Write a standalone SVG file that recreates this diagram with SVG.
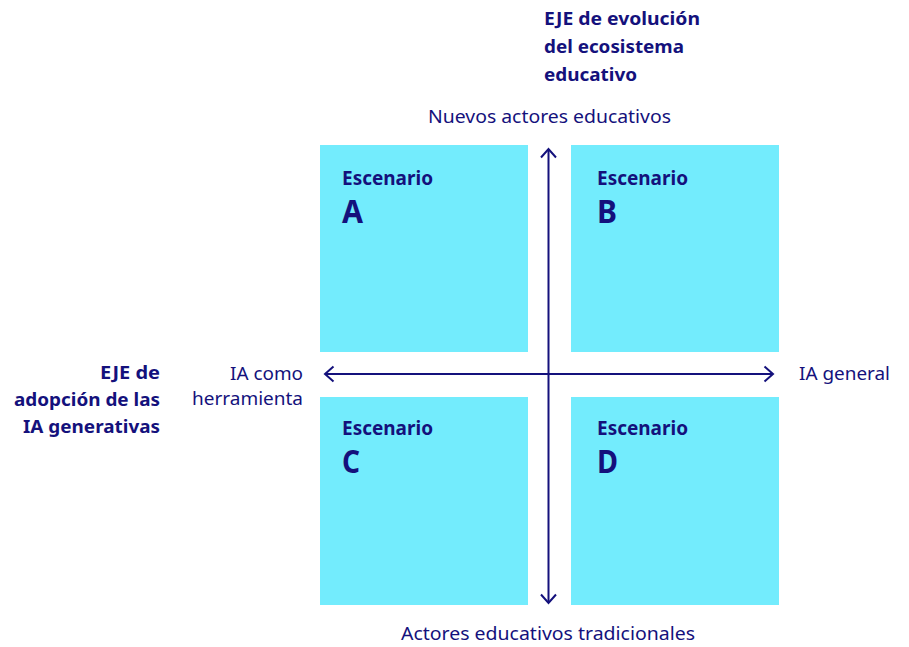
<svg xmlns="http://www.w3.org/2000/svg" width="909" height="647" viewBox="0 0 909 647">
<style>
.box{fill:#73ECFD;}
.t{font-family:"Noto Sans","Open Sans","Liberation Sans",sans-serif;fill:#14117C;}
.r{font-size:18px;font-weight:400;}
.b{font-size:18px;font-weight:700;}
.sc{font-size:19.5px;font-weight:700;}
.lt{font-size:32px;font-weight:700;}
.ax{stroke:#14117C;stroke-width:2;fill:none;}
</style>
<defs>
<marker id="ah" viewBox="0 0 10 16" refX="9.5" refY="8" markerWidth="10" markerHeight="16" markerUnits="userSpaceOnUse" orient="auto-start-reverse" overflow="visible">
<path d="M1,0.5 L9.5,8 L1,15.5" fill="none" stroke="#14117C" stroke-width="2"/>
</marker>
</defs>
<g id="axis-title-vertical">
<text class="t b" x="544" y="25" textLength="156" lengthAdjust="spacingAndGlyphs">EJE de evolución</text>
<text class="t b" x="544" y="53" textLength="140" lengthAdjust="spacingAndGlyphs">del ecosistema</text>
<text class="t b" x="544" y="81" textLength="93" lengthAdjust="spacingAndGlyphs">educativo</text>
</g>
<g id="axis-title-horizontal">
<text class="t b" x="100" y="379" textLength="60" lengthAdjust="spacingAndGlyphs">EJE de</text>
<text class="t b" x="14" y="406" textLength="146" lengthAdjust="spacingAndGlyphs">adopción de las</text>
<text class="t b" x="23" y="433" textLength="137" lengthAdjust="spacingAndGlyphs">IA generativas</text>
</g>
<g id="label-top"><text class="t r" x="428" y="123" textLength="243" lengthAdjust="spacingAndGlyphs">Nuevos actores educativos</text></g>
<g id="label-bottom"><text class="t r" x="401" y="640" textLength="294" lengthAdjust="spacingAndGlyphs">Actores educativos tradicionales</text></g>
<g id="label-right"><text class="t r" x="799" y="380" textLength="91" lengthAdjust="spacingAndGlyphs">IA general</text></g>
<g id="label-left">
<text class="t r" x="230" y="380" textLength="73" lengthAdjust="spacingAndGlyphs">IA como</text>
<text class="t r" x="192" y="405" textLength="111" lengthAdjust="spacingAndGlyphs">herramienta</text>
</g>
<g id="scenario-a">
<rect class="box" x="320" y="145" width="208" height="207"/>
<text class="t sc" x="342" y="185" textLength="91" lengthAdjust="spacingAndGlyphs">Escenario</text>
<text class="t lt" x="342" y="223" textLength="21" lengthAdjust="spacingAndGlyphs">A</text>
</g>
<g id="scenario-b">
<rect class="box" x="571" y="145" width="208" height="207"/>
<text class="t sc" x="597" y="185" textLength="91" lengthAdjust="spacingAndGlyphs">Escenario</text>
<text class="t lt" x="597" y="223" textLength="20" lengthAdjust="spacingAndGlyphs">B</text>
</g>
<g id="scenario-c">
<rect class="box" x="320" y="397" width="208" height="208"/>
<text class="t sc" x="342" y="435" textLength="91" lengthAdjust="spacingAndGlyphs">Escenario</text>
<text class="t lt" x="342" y="473" textLength="18" lengthAdjust="spacingAndGlyphs">C</text>
</g>
<g id="scenario-d">
<rect class="box" x="571" y="397" width="208" height="208"/>
<text class="t sc" x="597" y="435" textLength="91" lengthAdjust="spacingAndGlyphs">Escenario</text>
<text class="t lt" x="597" y="473" textLength="21" lengthAdjust="spacingAndGlyphs">D</text>
</g>
<g id="connectors">
<line class="ax" x1="548.5" y1="603" x2="548.5" y2="149" marker-start="url(#ah)" marker-end="url(#ah)"/>
<line class="ax" x1="325" y1="374" x2="773" y2="374" marker-start="url(#ah)" marker-end="url(#ah)"/>
</g>
</svg>
